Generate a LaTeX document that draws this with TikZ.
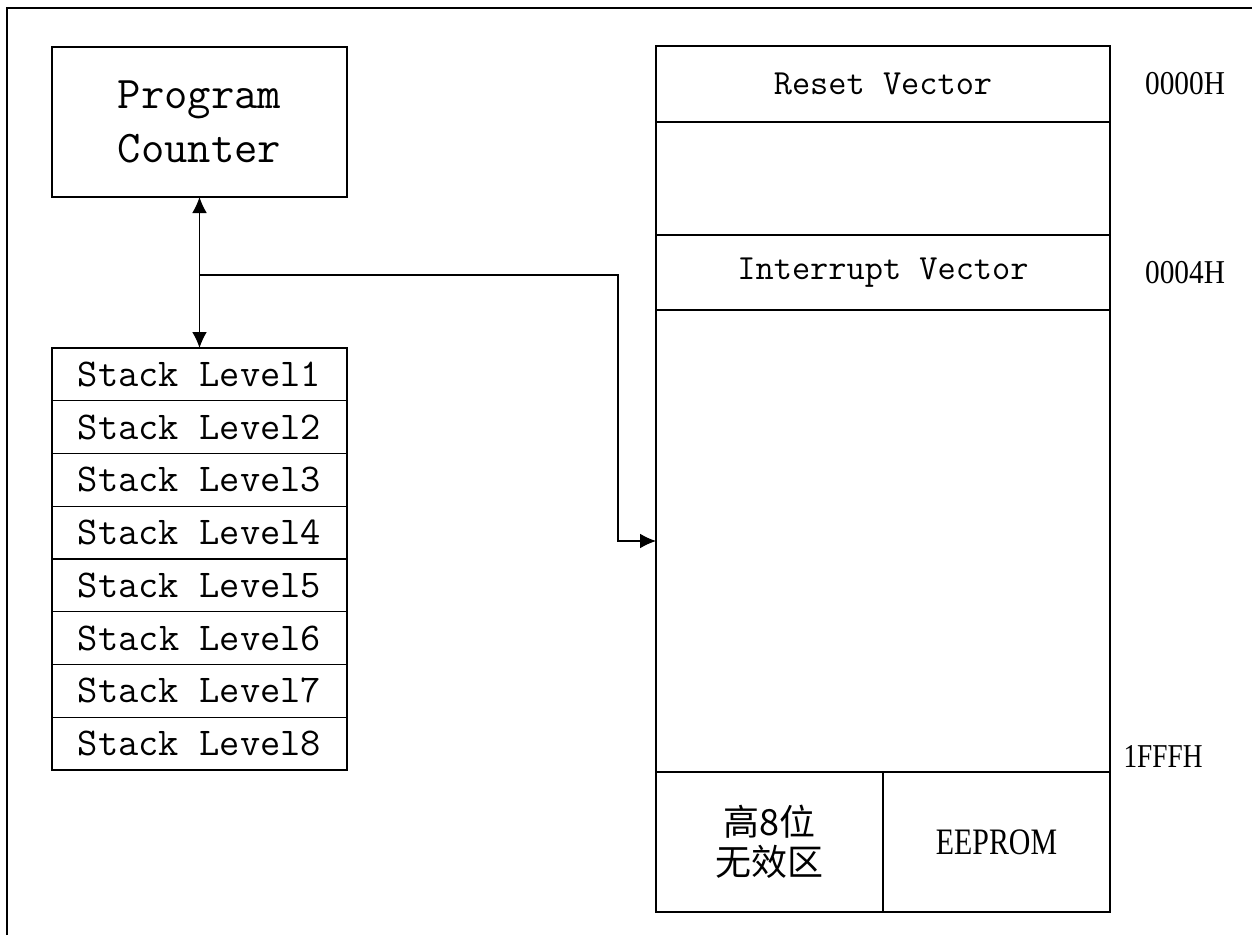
\documentclass[tikz,border=0pt]{standalone}
\usepackage{fontspec}
\setmainfont{Liberation Serif}
\newfontfamily\cjk{Noto Sans CJK SC}
\usetikzlibrary{positioning,arrows.meta}
\newcommand{\narrowtext}[2][0.85]{\scalebox{#1}[1]{#2}}

\tikzset{
  cell/.style={draw=black,line width=0.8pt,inner sep=0pt,outer sep=0pt},
  stackcell/.style={cell,minimum width=221.25pt,minimum height=39.56pt,
    font=\ttfamily\fontsize{29.5}{31}\selectfont},
  memcell/.style={cell,minimum width=340.5pt,font=\ttfamily\fontsize{26.5}{28}\selectfont},
  addr/.style={inner sep=0pt,font=\fontsize{25}{27}\selectfont},
  head/.tip={Latex[length=12pt,width=11pt]}
}

\begin{document}
\begin{tikzpicture}[x=0.75pt,y=-0.75pt]
\path[use as bounding box] (0,0) rectangle (1252,935);
% frame
\draw[line width=0.8pt] (7,935) -- (7,8) -- (1252,8);

% program counter and stack
\node[cell,minimum width=221.25pt,minimum height=112.5pt,align=center,
  font=\ttfamily\fontsize{34}{41}\selectfont] (pc) at (199.5,122) {Program\\Counter};
\foreach \i in {1,...,8}
  \node[stackcell] (s\i) at (199.5,{348+52.75*(\i-0.5)}) {Stack Level\i};

% program memory
\node[memcell,minimum height=57pt] (reset) at (883,84) {Reset Vector};
\node[memcell,minimum height=84.75pt] (gap) at (883,178.5) {};
\node[memcell,minimum height=56.25pt] (intr) at (883,272.5) {Interrupt Vector};
\node[memcell,minimum height=346.5pt] (mem) at (883,541) {};
\node[cell,minimum width=170.25pt,minimum height=105pt,align=center,
  font=\cjk\fontsize{27}{30}\selectfont] (inval) at (769.5,842) {高8位\\无效区};
\node[cell,minimum width=170.25pt,minimum height=105pt,
  font=\fontsize{28}{30}\selectfont] (eep) at (996.5,842) {\narrowtext[0.8]{EEPROM}};

% addresses
\node[addr] (a0) at (1185,84) {\narrowtext[0.88]{0000H}};
\node[addr] (a4) at (1185,272.5) {\narrowtext[0.88]{0004H}};
\node[addr] (af) at (1163,756) {\narrowtext[0.82]{1FFFH}};

% connectors
\draw[line width=0.8pt,{head}-{head}] (pc.south) -- (s1.north);
\coordinate (br) at (199.5,275);
\coordinate (bend) at (618,275);
\draw[line width=0.8pt,-{head}] (br) -- (bend) |- (mem.west);
\end{tikzpicture}
\end{document}
